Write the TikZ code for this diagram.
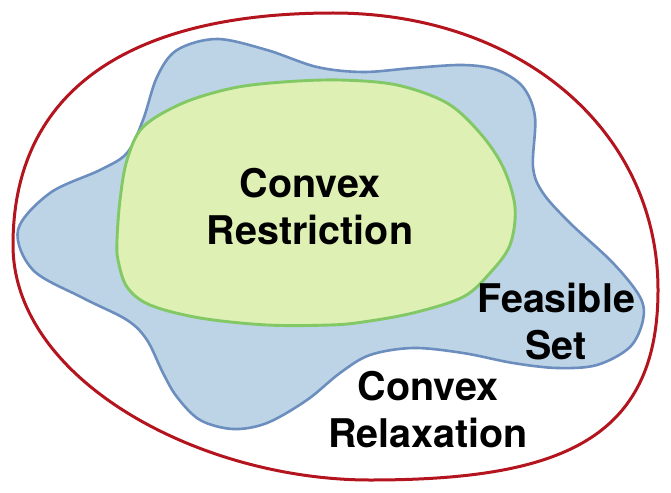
\documentclass[tikz,border=0pt]{standalone}
\usepackage{fontspec}
\setmainfont{TeX Gyre Heros}
\definecolor{redline}{RGB}{180,20,30}
\definecolor{bluefill}{RGB}{188,212,230}
\definecolor{blueline}{RGB}{108,142,191}
\definecolor{greenfill}{RGB}{222,240,180}
\definecolor{greenline}{RGB}{130,200,100}
\tikzset{
  lbl/.style={font=\fontsize{39.5}{47}\selectfont\bfseries, align=center, text=black, inner sep=0pt},
}
\begin{document}
\begin{tikzpicture}[x=1pt,y=-1pt]
\useasboundingbox (0,0) rectangle (671,492);
% convex relaxation (red)
\draw[redline, line width=3pt] (13,245) .. controls (13,90) and (130,13) .. (333,13)
  .. controls (520,13) and (658,130) .. (658,290)
  .. controls (658,440) and (560,480) .. (370,480)
  .. controls (200,480) and (13,380) .. cycle;
% feasible set (blue)
\draw[blueline, fill=bluefill, line width=2.6pt] plot[smooth cycle, tension=0.55] coordinates {
 (18,230) (50,193) (100,170) (127,153) (143,120) (157,77) (177,50) (217,39) (267,50)
 (317,67) (363,72) (413,68) (463,65) (497,70) (523,87) (535,117) (533,167) (543,193)
 (570,223) (613,263) (640,297) (643,320) (630,347) (597,365) (557,368) (513,363)
 (463,353) (413,348) (370,355) (340,373) (307,400) (267,423) (233,429) (200,420)
 (177,397) (163,373) (147,340) (127,320) (83,298) (33,270)};
% convex restriction (green)
\draw[greenline, fill=greenfill, line width=2.9pt] plot[smooth cycle, tension=0.55] coordinates {
 (117,240) (120,200) (127,160) (143,127) (183,103) (233,88) (283,82) (340,80) (397,85)
 (447,103) (480,133) (503,167) (515,207) (510,245) (490,273) (463,297) (413,313)
 (363,322) (330,325) (267,325) (200,318) (150,305) (127,287) (118,260)};
\node[lbl] (restr) at (310,207) {Convex\\Restriction};
\node[lbl] (feas) at (556,322) {Feasible\\Set};
\node[lbl] (relax) at (428,410) {Convex\\Relaxation};
\end{tikzpicture}
\end{document}
